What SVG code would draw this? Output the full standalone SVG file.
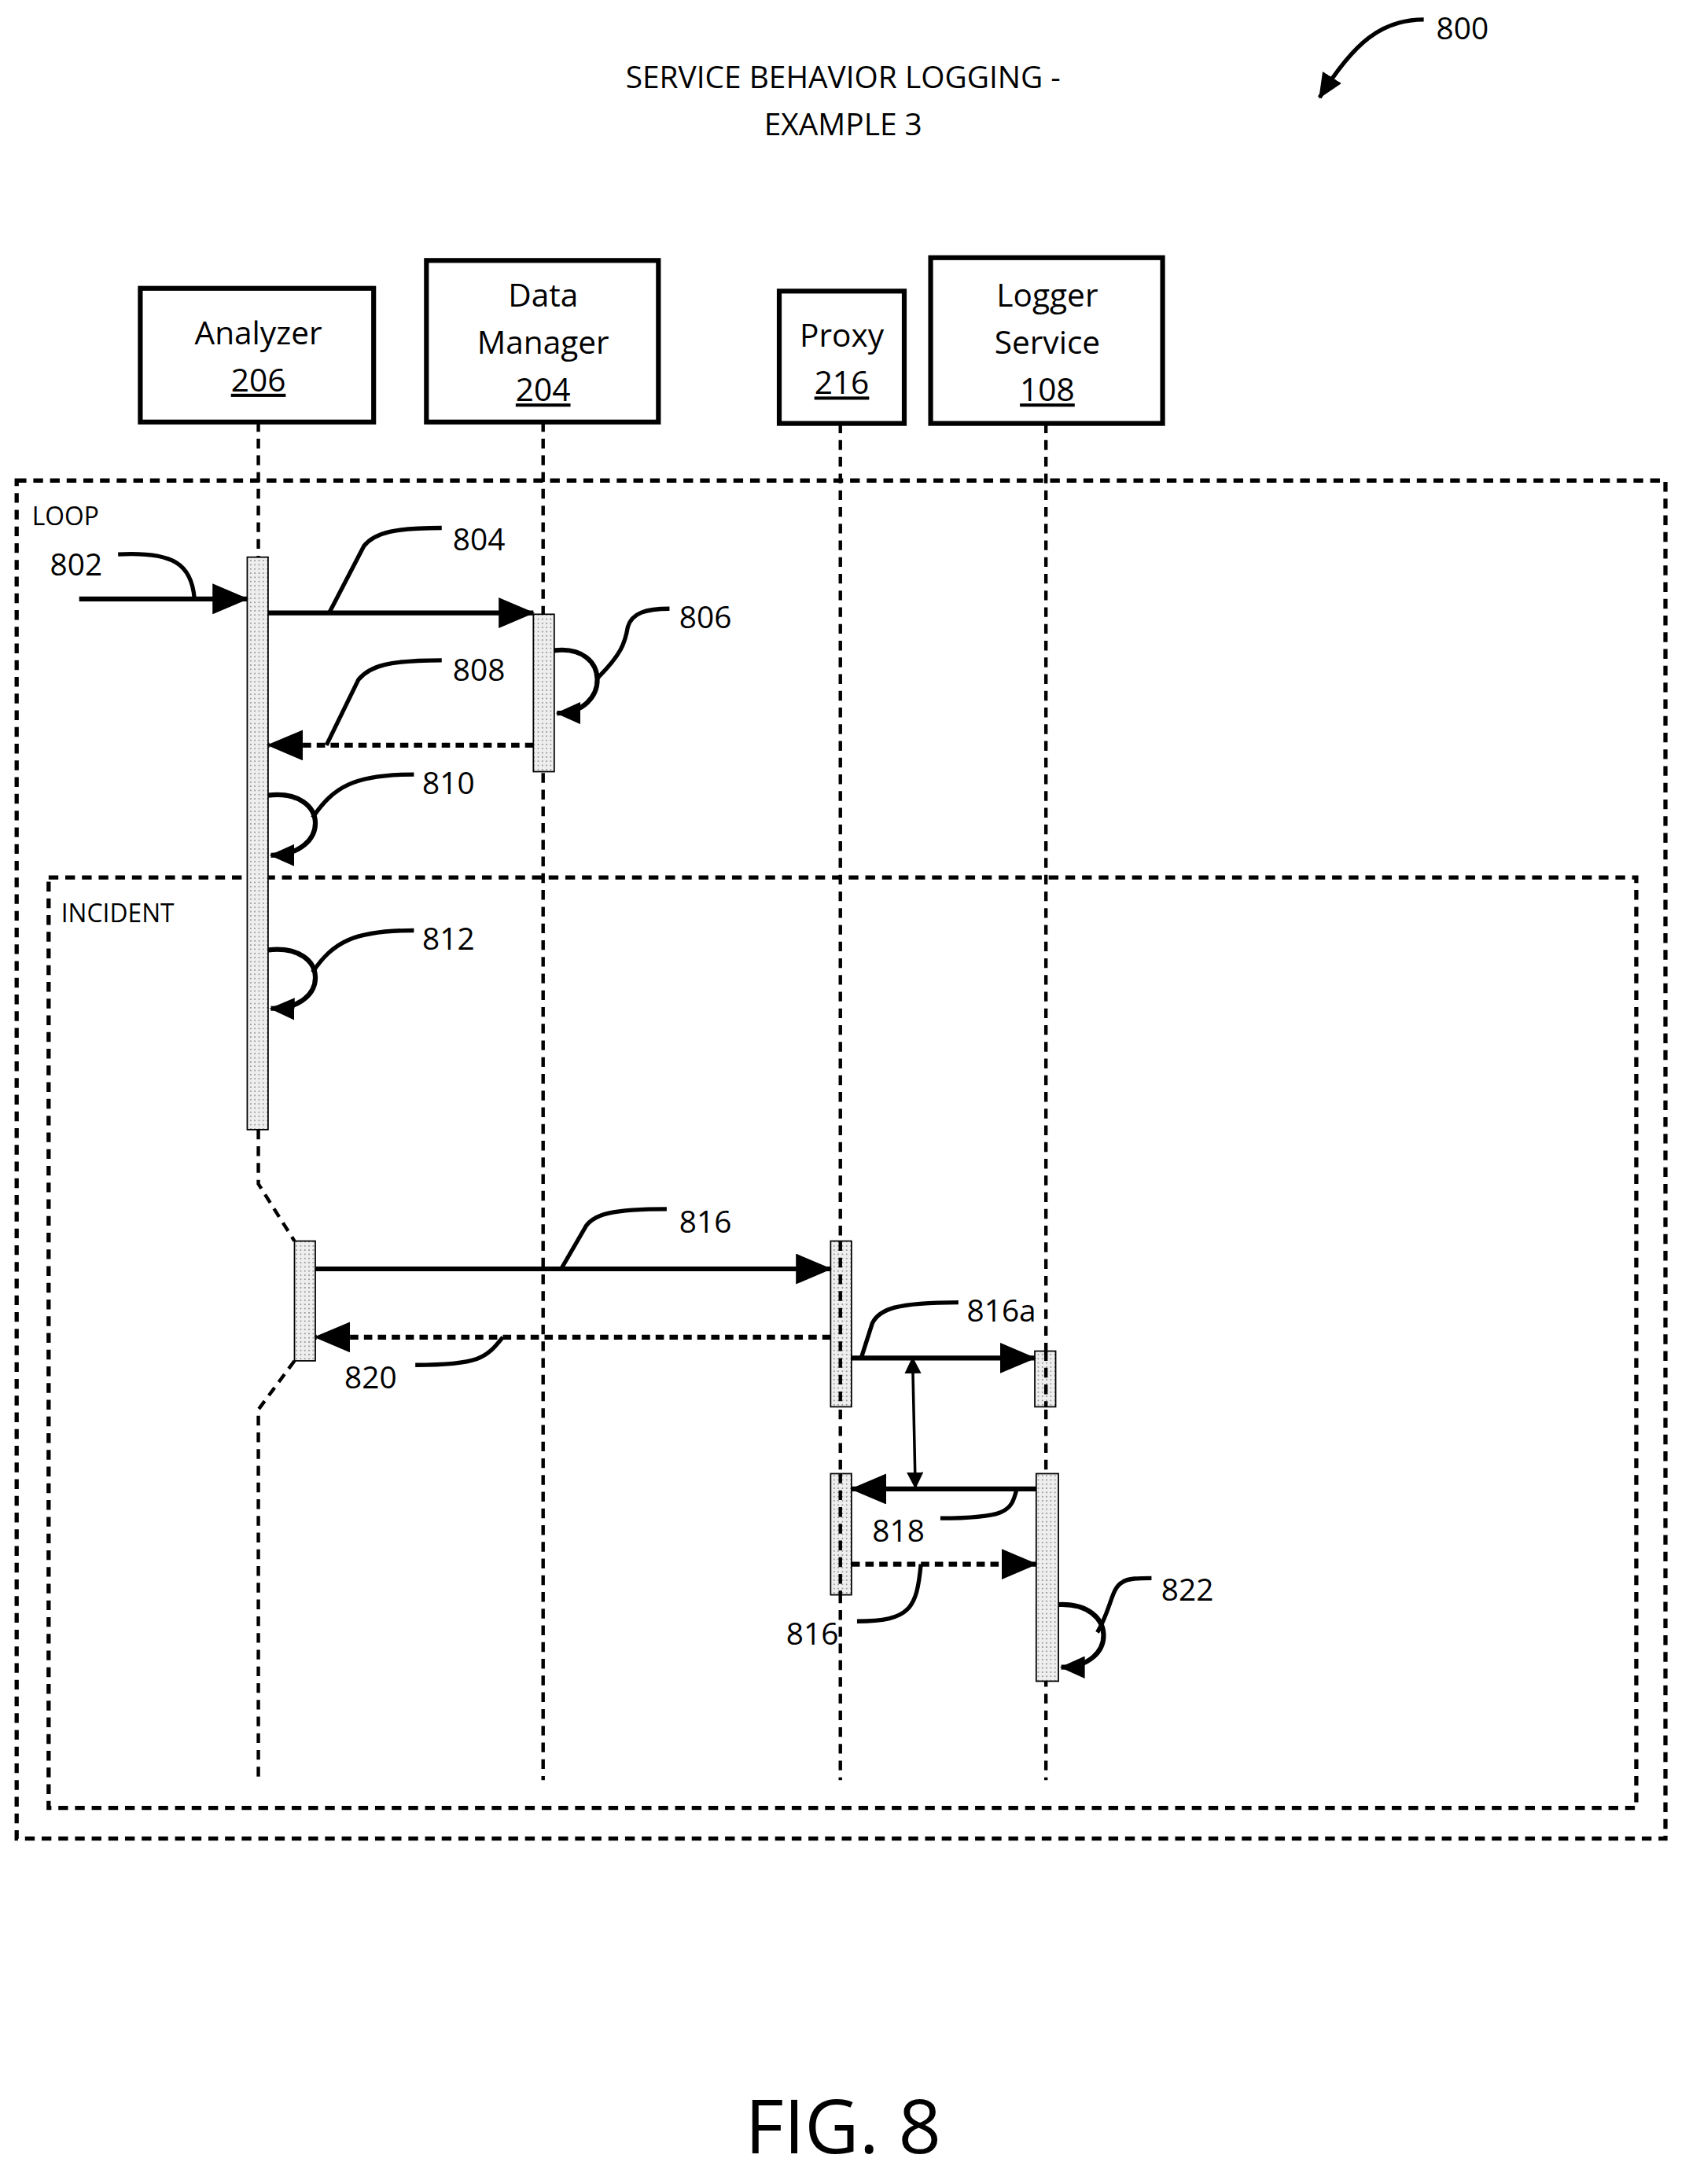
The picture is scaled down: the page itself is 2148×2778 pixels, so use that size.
<svg xmlns="http://www.w3.org/2000/svg" width="2148" height="2778" viewBox="0 0 2148 2778">
<style>
text{font-family:"Open Sans","Liberation Sans",sans-serif;fill:#000}
.t{font-size:22px;text-anchor:middle}
.n{font-size:23px;text-anchor:middle}
.lb{font-size:22px}
.fr{fill:none;stroke:#000;stroke-width:3;stroke-dasharray:7,5}
.ll{fill:none;stroke:#000;stroke-width:2.5;stroke-dasharray:7,5}
.box{fill:#fff;stroke:#000;stroke-width:3.5}
.bar{fill:url(#dots);stroke:#000;stroke-width:1}
.msg{fill:none;stroke:#000;stroke-width:3.5}
.dmsg{fill:none;stroke:#000;stroke-width:3.5;stroke-dasharray:6,4}
.lead{fill:none;stroke:#000;stroke-width:3}
</style>
<defs>
<pattern id="dots" width="3" height="3" patternUnits="userSpaceOnUse"><rect width="3" height="3" fill="#eee"/><rect width="1" height="1" fill="#999"/></pattern>
<marker id="ah" markerWidth="26" markerHeight="22" refX="25" refY="11" orient="auto" markerUnits="userSpaceOnUse"><path d="M0,0 L26,11 L0,22 Z" fill="#000"/></marker>
<marker id="sh" markerWidth="18" markerHeight="16" refX="17" refY="8" orient="auto" markerUnits="userSpaceOnUse"><path d="M0,0 L18,8 L0,16 Z" fill="#000"/></marker>
<marker id="th" markerWidth="12" markerHeight="12" refX="11" refY="6" orient="auto" markerUnits="userSpaceOnUse"><path d="M0,0 L12,6 L0,12 Z" fill="#000"/></marker>
<marker id="ths" markerWidth="12" markerHeight="12" refX="1" refY="6" orient="auto" markerUnits="userSpaceOnUse"><path d="M12,0 L0,6 L12,12 Z" fill="#000"/></marker>
</defs>
<rect width="2148" height="2778" fill="#fff"/>
<g transform="scale(1.7665,1.7717)">
<g id="title">
<text class="t" x="607" y="63">SERVICE BEHAVIOR LOGGING -</text>
<text class="t" x="607" y="97">EXAMPLE 3</text>
<text class="lb" x="1034" y="28">800</text>
<path class="lead" d="M1025,14 C995,14 975,30 950,70" marker-end="url(#sh)"/>
</g>
<g id="frames">
<rect class="fr" x="12" y="345" width="1187" height="975"/>
<text x="23" y="377" style="font-size:18px">LOOP</text>
<rect class="fr" x="35" y="630" width="1143" height="668"/>
<text x="44" y="662" style="font-size:18px">INCIDENT</text>
</g>
<g id="lifelines">
<path class="ll" d="M186,303 V400 M186,811 V850 L212,891 M212,977 L186,1012 V1278"/>
<path class="ll" d="M391,303 V1278"/>
<path class="ll" d="M605,304 V1278"/>
<path class="ll" d="M753,304 V1278"/>
</g>
<g id="analyzer"><rect class="box" x="101" y="207" width="168" height="96"/><text class="n" x="186" y="247">Analyzer</text><text class="n" x="186" y="281" text-decoration="underline">206</text></g>
<g id="datamanager"><rect class="box" x="307" y="187" width="167" height="116"/><text class="n" x="391" y="220">Data</text><text class="n" x="391" y="254">Manager</text><text class="n" x="391" y="288" text-decoration="underline">204</text></g>
<g id="proxy"><rect class="box" x="561" y="209" width="90" height="95"/><text class="n" x="606" y="249">Proxy</text><text class="n" x="606" y="283" text-decoration="underline">216</text></g>
<g id="logger"><rect class="box" x="670" y="185" width="167" height="119"/><text class="n" x="754" y="220">Logger</text><text class="n" x="754" y="254">Service</text><text class="n" x="754" y="288" text-decoration="underline">108</text></g>
<g id="activations">
<rect class="bar" x="178" y="400" width="15" height="411"/>
<rect class="bar" x="384" y="441" width="15" height="113"/>
<rect class="bar" x="212" y="891" width="15" height="86"/>
<rect class="bar" x="598" y="891" width="15" height="119"/>
<rect class="bar" x="745" y="970" width="15" height="40"/>
<rect class="bar" x="598" y="1058" width="15" height="87"/>
<rect class="bar" x="746" y="1058" width="16" height="149"/>
<path class="ll" d="M605,891 V1010 M605,1058 V1145 M753,970 V1010" stroke-width="1.5"/>
</g>
<g id="connectors">
<path class="msg" d="M57,430 H178" marker-end="url(#ah)"/>
<path class="msg" d="M193,440 H384" marker-end="url(#ah)"/>
<path class="msg" d="M399,467 C440,462 440,512 401,512" marker-end="url(#sh)"/>
<path class="dmsg" d="M384,535 H193" marker-end="url(#ah)"/>
<path class="msg" d="M193,571 C238,566 238,614 195,614" marker-end="url(#sh)"/>
<path class="msg" d="M193,682 C238,677 238,725 195,724" marker-end="url(#sh)"/>
<path class="msg" d="M227,911 H598" marker-end="url(#ah)"/>
<path class="dmsg" d="M598,960 H227" marker-end="url(#ah)"/>
<path class="msg" d="M613,975 H745" marker-end="url(#ah)"/>
<path d="M657,975 L659,1068" stroke="#000" stroke-width="2" fill="none" marker-start="url(#ths)" marker-end="url(#th)"/>
<path class="msg" d="M746,1069 H613" marker-end="url(#ah)"/>
<path class="dmsg" d="M613,1123 H746" marker-end="url(#ah)"/>
<path class="msg" d="M762,1152 C805,1150 805,1197 764,1197" marker-end="url(#sh)"/>
</g>
<g id="labels">
<text class="lb" x="36" y="413">802</text>
<path class="lead" d="M85,398 C125,396 138,405 140,430"/>
<text class="lb" x="326" y="395">804</text>
<path class="lead" d="M237,440 L262,392 C270,382 285,379 318,379"/>
<text class="lb" x="489" y="451">806</text>
<path class="lead" d="M430,487 C447,470 450,462 452,450 C455,440 465,437 482,437"/>
<text class="lb" x="326" y="489">808</text>
<path class="lead" d="M235,535 L258,488 C266,478 280,474 318,474"/>
<text class="lb" x="304" y="570">810</text>
<path class="lead" d="M225,587 C240,565 255,556 298,556"/>
<text class="lb" x="304" y="682">812</text>
<path class="lead" d="M225,698 C240,676 255,668 298,668"/>
<text class="lb" x="489" y="885">816</text>
<path class="lead" d="M404,911 L422,880 C428,872 440,868 480,868"/>
<text class="lb" x="248" y="997">820</text>
<path class="lead" d="M362,960 C350,975 345,980 299,980"/>
<text class="lb" x="696" y="949">816a</text>
<path class="lead" d="M620,975 L628,950 C633,940 645,935 690,935"/>
<text class="lb" x="628" y="1107">818</text>
<path class="lead" d="M732,1069 C728,1085 725,1090 677,1090"/>
<text class="lb" x="566" y="1181">816</text>
<path class="lead" d="M663,1123 C660,1155 655,1164 617,1164"/>
<text class="lb" x="836" y="1149">822</text>
<path class="lead" d="M790,1172 C800,1155 800,1140 808,1136 C812,1133 820,1133 829,1133"/>
<text x="607" y="1546" style="font-size:54px;text-anchor:middle">FIG. 8</text>
</g>
</g>
</svg>
